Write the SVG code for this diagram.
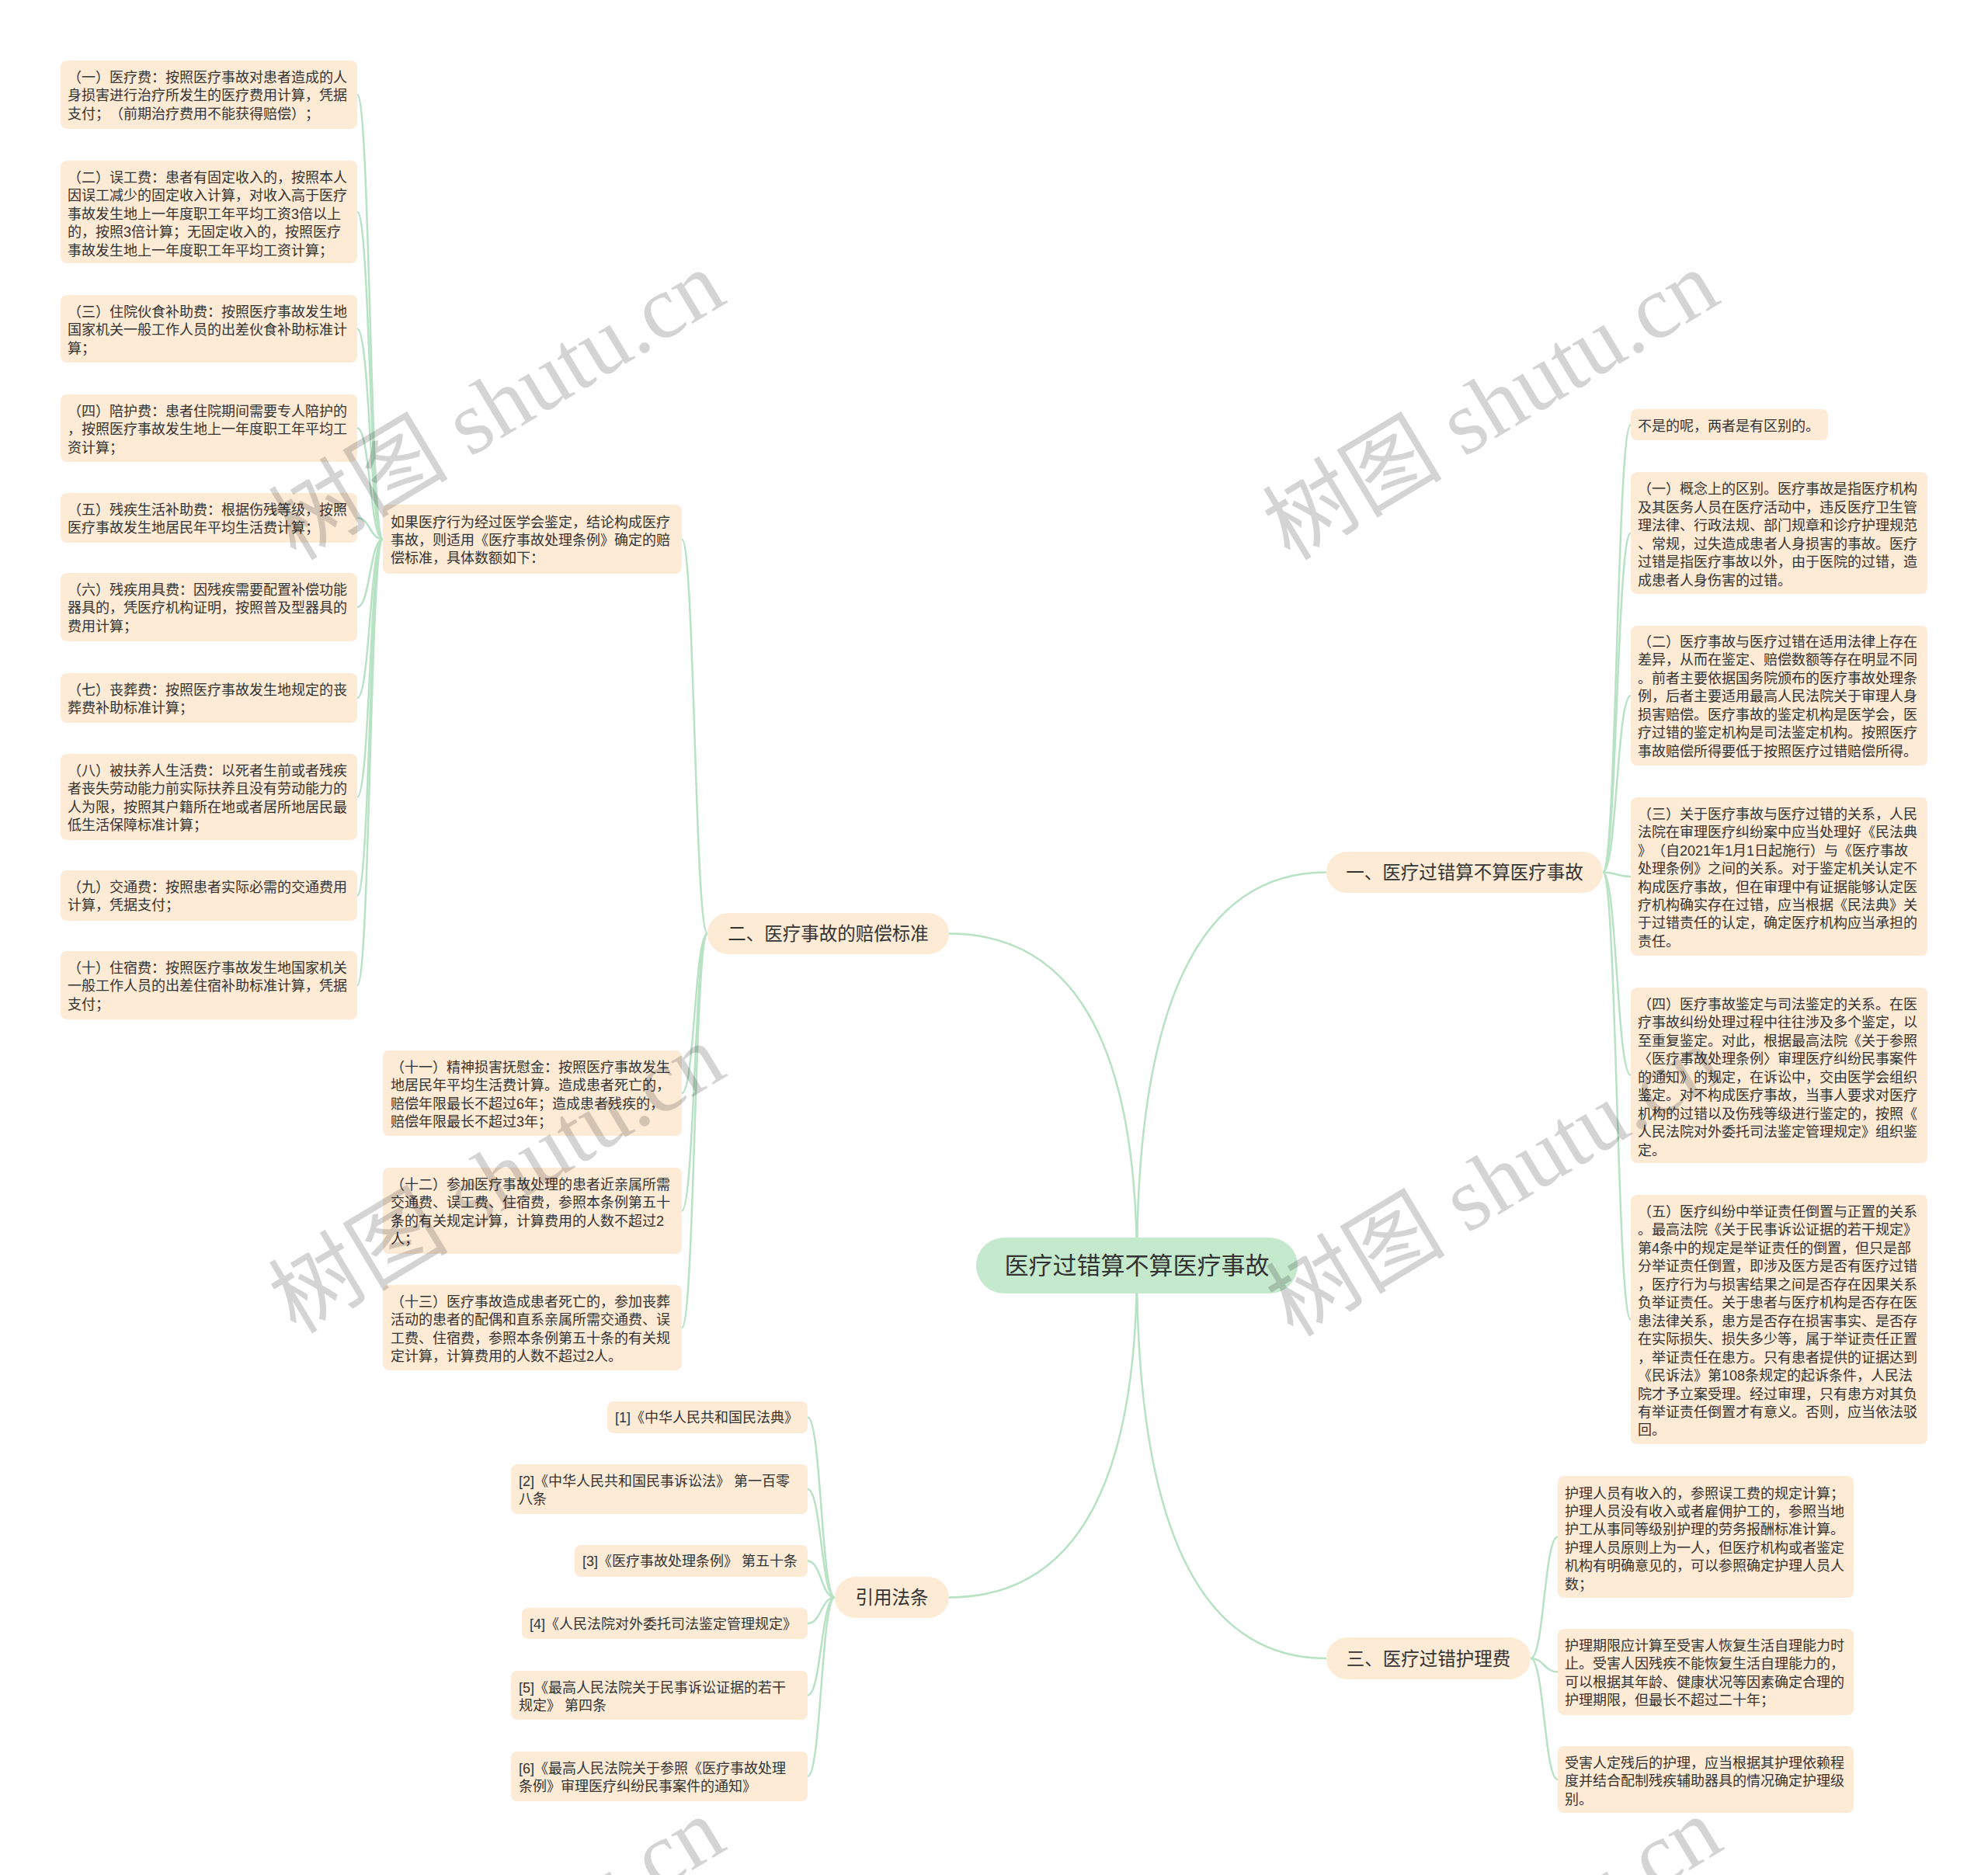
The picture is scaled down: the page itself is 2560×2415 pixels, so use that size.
<svg xmlns="http://www.w3.org/2000/svg" width="2560" height="2415" viewBox="0 0 2560 2415">
<style>
.bg{fill:#ffffff}
.n rect{fill:#fdebd6}
.c rect{fill:#c5e9cd}
.t{font-family:'Liberation Sans','Noto Sans CJK SC',sans-serif;font-size:18px;fill:#333333;text-spacing-trim:space-all}
.b{font-family:'Liberation Sans','Noto Sans CJK SC',sans-serif;font-size:23.5px;fill:#333333;text-anchor:middle}
.ct{font-family:'Liberation Sans','Noto Sans CJK SC',sans-serif;font-size:31px;fill:#333333;text-anchor:middle}
.conn path{fill:none;stroke:#b7e2c3;stroke-width:2.5}
.wm{font-family:'Liberation Serif','Noto Sans CJK SC',serif;font-size:116px;fill:#000000;fill-opacity:0.17;text-anchor:middle}
</style>
<rect class="bg" x="0" y="0" width="2560" height="2415"/>

<g id="connectors" class="conn">
<path d="M1464 1630 Q1464 1123.5 1708 1123.5"/>
<path d="M1464 1630 Q1464 1202.5 1222 1202.5"/>
<path d="M1464 1630 Q1464 2057.5 1222 2057.5"/>
<path d="M1464 1630 Q1464 2136 1708 2136"/>
<path d="M2064 1123.5 C2082 1123.5 2082 547 2100 547"/>
<path d="M2064 1123.5 C2082 1123.5 2082 686.5 2100 686.5"/>
<path d="M2064 1123.5 C2082 1123.5 2082 896 2100 896"/>
<path d="M2064 1123.5 C2082 1123.5 2082 1129 2100 1129"/>
<path d="M2064 1123.5 C2082 1123.5 2082 1385 2100 1385"/>
<path d="M2064 1123.5 C2082 1123.5 2082 1699.5 2100 1699.5"/>
<path d="M911 1202.5 C894.5 1202.5 894.5 694.5 878 694.5"/>
<path d="M911 1202.5 C894.5 1202.5 894.5 1408 878 1408"/>
<path d="M911 1202.5 C894.5 1202.5 894.5 1559.5 878 1559.5"/>
<path d="M911 1202.5 C894.5 1202.5 894.5 1710 878 1710"/>
<path d="M493 694.5 C476.5 694.5 476.5 122 460 122"/>
<path d="M493 694.5 C476.5 694.5 476.5 273 460 273"/>
<path d="M493 694.5 C476.5 694.5 476.5 423.5 460 423.5"/>
<path d="M493 694.5 C476.5 694.5 476.5 551.5 460 551.5"/>
<path d="M493 694.5 C476.5 694.5 476.5 667 460 667"/>
<path d="M493 694.5 C476.5 694.5 476.5 782 460 782"/>
<path d="M493 694.5 C476.5 694.5 476.5 899 460 899"/>
<path d="M493 694.5 C476.5 694.5 476.5 1026.5 460 1026.5"/>
<path d="M493 694.5 C476.5 694.5 476.5 1153.5 460 1153.5"/>
<path d="M493 694.5 C476.5 694.5 476.5 1269 460 1269"/>
<path d="M1075 2057.5 C1057.5 2057.5 1057.5 1825.5 1040 1825.5"/>
<path d="M1075 2057.5 C1057.5 2057.5 1057.5 1918 1040 1918"/>
<path d="M1075 2057.5 C1057.5 2057.5 1057.5 2010.5 1040 2010.5"/>
<path d="M1075 2057.5 C1057.5 2057.5 1057.5 2091 1040 2091"/>
<path d="M1075 2057.5 C1057.5 2057.5 1057.5 2183.5 1040 2183.5"/>
<path d="M1075 2057.5 C1057.5 2057.5 1057.5 2288 1040 2288"/>
<path d="M1971 2136 C1988.5 2136 1988.5 1979.5 2006 1979.5"/>
<path d="M1971 2136 C1988.5 2136 1988.5 2153.5 2006 2153.5"/>
<path d="M1971 2136 C1988.5 2136 1988.5 2292 2006 2292"/>
</g>

<g id="center" class="c">
<rect x="1257" y="1594" width="414" height="72" rx="36"/>
<text class="ct" x="1464" y="1641">医疗过错算不算医疗事故</text>
</g>

<g id="branch1" class="n">
<rect x="1708" y="1097" width="356" height="53" rx="26.5"/>
<text class="b" x="1886" y="1132">一、医疗过错算不算医疗事故</text>
</g>
<g id="branch2" class="n">
<rect x="911" y="1176" width="311" height="53" rx="26.5"/>
<text class="b" x="1066.5" y="1211">二、医疗事故的赔偿标准</text>
</g>
<g id="branch3" class="n">
<rect x="1708" y="2109" width="263" height="54" rx="27"/>
<text class="b" x="1839.5" y="2144.5">三、医疗过错护理费</text>
</g>
<g id="branch4" class="n">
<rect x="1075" y="2031" width="147" height="53" rx="26.5"/>
<text class="b" x="1148.5" y="2066">引用法条</text>
</g>

<g id="l1" class="n"><rect x="78" y="78" width="382" height="88" rx="8"/>
<text class="t"><tspan x="87" y="106">（一）医疗费：按照医疗事故对患者造成的人</tspan><tspan x="87" y="129.4">身损害进行治疗所发生的医疗费用计算，凭据</tspan><tspan x="87" y="152.8">支付；（前期治疗费用不能获得赔偿）；</tspan></text></g>
<g id="l2" class="n"><rect x="78" y="207" width="382" height="132" rx="8"/>
<text class="t"><tspan x="87" y="235">（二）误工费：患者有固定收入的，按照本人</tspan><tspan x="87" y="258.4">因误工减少的固定收入计算，对收入高于医疗</tspan><tspan x="87" y="281.8">事故发生地上一年度职工年平均工资3倍以上</tspan><tspan x="87" y="305.2">的，按照3倍计算；无固定收入的，按照医疗</tspan><tspan x="87" y="328.6">事故发生地上一年度职工年平均工资计算；</tspan></text></g>
<g id="l3" class="n"><rect x="78" y="380" width="382" height="87" rx="8"/>
<text class="t"><tspan x="87" y="408">（三）住院伙食补助费：按照医疗事故发生地</tspan><tspan x="87" y="431.4">国家机关一般工作人员的出差伙食补助标准计</tspan><tspan x="87" y="454.8">算；</tspan></text></g>
<g id="l4" class="n"><rect x="78" y="508" width="382" height="87" rx="8"/>
<text class="t"><tspan x="87" y="536">（四）陪护费：患者住院期间需要专人陪护的</tspan><tspan x="87" y="559.4">，按照医疗事故发生地上一年度职工年平均工</tspan><tspan x="87" y="582.8">资计算；</tspan></text></g>
<g id="l5" class="n"><rect x="78" y="635" width="382" height="64" rx="8"/>
<text class="t"><tspan x="87" y="663">（五）残疾生活补助费：根据伤残等级，按照</tspan><tspan x="87" y="686.4">医疗事故发生地居民年平均生活费计算；</tspan></text></g>
<g id="l6" class="n"><rect x="78" y="738" width="382" height="88" rx="8"/>
<text class="t"><tspan x="87" y="766">（六）残疾用具费：因残疾需要配置补偿功能</tspan><tspan x="87" y="789.4">器具的，凭医疗机构证明，按照普及型器具的</tspan><tspan x="87" y="812.8">费用计算；</tspan></text></g>
<g id="l7" class="n"><rect x="78" y="867" width="382" height="64" rx="8"/>
<text class="t"><tspan x="87" y="895">（七）丧葬费：按照医疗事故发生地规定的丧</tspan><tspan x="87" y="918.4">葬费补助标准计算；</tspan></text></g>
<g id="l8" class="n"><rect x="78" y="971" width="382" height="111" rx="8"/>
<text class="t"><tspan x="87" y="999">（八）被扶养人生活费：以死者生前或者残疾</tspan><tspan x="87" y="1022.4">者丧失劳动能力前实际扶养且没有劳动能力的</tspan><tspan x="87" y="1045.8">人为限，按照其户籍所在地或者居所地居民最</tspan><tspan x="87" y="1069.2">低生活保障标准计算；</tspan></text></g>
<g id="l9" class="n"><rect x="78" y="1121" width="382" height="65" rx="8"/>
<text class="t"><tspan x="87" y="1149">（九）交通费：按照患者实际必需的交通费用</tspan><tspan x="87" y="1172.4">计算，凭据支付；</tspan></text></g>
<g id="l10" class="n"><rect x="78" y="1225" width="382" height="88" rx="8"/>
<text class="t"><tspan x="87" y="1253">（十）住宿费：按照医疗事故发生地国家机关</tspan><tspan x="87" y="1276.4">一般工作人员的出差住宿补助标准计算，凭据</tspan><tspan x="87" y="1299.8">支付；</tspan></text></g>

<g id="m0" class="n"><rect x="493" y="650" width="385" height="89" rx="8"/>
<text class="t"><tspan x="503" y="678.5">如果医疗行为经过医学会鉴定，结论构成医疗</tspan><tspan x="503" y="701.9">事故，则适用《医疗事故处理条例》确定的赔</tspan><tspan x="503" y="725.3">偿标准，具体数额如下：</tspan></text></g>
<g id="m11" class="n"><rect x="493" y="1353" width="385" height="110" rx="8"/>
<text class="t"><tspan x="503" y="1381">（十一）精神损害抚慰金：按照医疗事故发生</tspan><tspan x="503" y="1404.4">地居民年平均生活费计算。造成患者死亡的，</tspan><tspan x="503" y="1427.8">赔偿年限最长不超过6年；造成患者残疾的，</tspan><tspan x="503" y="1451.2">赔偿年限最长不超过3年；</tspan></text></g>
<g id="m12" class="n"><rect x="493" y="1504" width="385" height="111" rx="8"/>
<text class="t"><tspan x="503" y="1532">（十二）参加医疗事故处理的患者近亲属所需</tspan><tspan x="503" y="1555.4">交通费、误工费、住宿费，参照本条例第五十</tspan><tspan x="503" y="1578.8">条的有关规定计算，计算费用的人数不超过2</tspan><tspan x="503" y="1602.2">人；</tspan></text></g>
<g id="m13" class="n"><rect x="493" y="1655" width="385" height="110" rx="8"/>
<text class="t"><tspan x="503" y="1683">（十三）医疗事故造成患者死亡的，参加丧葬</tspan><tspan x="503" y="1706.4">活动的患者的配偶和直系亲属所需交通费、误</tspan><tspan x="503" y="1729.8">工费、住宿费，参照本条例第五十条的有关规</tspan><tspan x="503" y="1753.2">定计算，计算费用的人数不超过2人。</tspan></text></g>

<g id="r1" class="n"><rect x="782" y="1805" width="258" height="41" rx="8"/>
<text class="t" x="792" y="1832">[1]《中华人民共和国民法典》</text></g>
<g id="r2" class="n"><rect x="658" y="1886" width="382" height="64" rx="8"/>
<text class="t"><tspan x="668" y="1913.5">[2]《中华人民共和国民事诉讼法》 第一百零</tspan><tspan x="668" y="1936.5">八条</tspan></text></g>
<g id="r3" class="n"><rect x="740" y="1990" width="300" height="41" rx="8"/>
<text class="t" x="750" y="2017">[3]《医疗事故处理条例》 第五十条</text></g>
<g id="r4" class="n"><rect x="672" y="2071" width="368" height="40" rx="8"/>
<text class="t" x="682" y="2098">[4]《人民法院对外委托司法鉴定管理规定》</text></g>
<g id="r5" class="n"><rect x="658" y="2152" width="382" height="63" rx="8"/>
<text class="t"><tspan x="668" y="2179.5">[5]《最高人民法院关于民事诉讼证据的若干</tspan><tspan x="668" y="2202.5">规定》 第四条</tspan></text></g>
<g id="r6" class="n"><rect x="658" y="2256" width="382" height="64" rx="8"/>
<text class="t"><tspan x="668" y="2283.5">[6]《最高人民法院关于参照《医疗事故处理</tspan><tspan x="668" y="2306.5">条例》审理医疗纠纷民事案件的通知》</tspan></text></g>

<g id="ra" class="n"><rect x="2100" y="527" width="254" height="40" rx="8"/>
<text class="t" x="2109" y="555">不是的呢，两者是有区别的。</text></g>
<g id="rb" class="n"><rect x="2100" y="608" width="382" height="157" rx="8"/>
<text class="t"><tspan x="2109" y="636">（一）概念上的区别。医疗事故是指医疗机构</tspan><tspan x="2109" y="659.6">及其医务人员在医疗活动中，违反医疗卫生管</tspan><tspan x="2109" y="683.2">理法律、行政法规、部门规章和诊疗护理规范</tspan><tspan x="2109" y="706.8">、常规，过失造成患者人身损害的事故。医疗</tspan><tspan x="2109" y="730.4">过错是指医疗事故以外，由于医院的过错，造</tspan><tspan x="2109" y="754">成患者人身伤害的过错。</tspan></text></g>
<g id="rc" class="n"><rect x="2100" y="806" width="382" height="180" rx="8"/>
<text class="t"><tspan x="2109" y="833">（二）医疗事故与医疗过错在适用法律上存在</tspan><tspan x="2109" y="856.45">差异，从而在鉴定、赔偿数额等存在明显不同</tspan><tspan x="2109" y="879.9">。前者主要依据国务院颁布的医疗事故处理条</tspan><tspan x="2109" y="903.35">例，后者主要适用最高人民法院关于审理人身</tspan><tspan x="2109" y="926.8">损害赔偿。医疗事故的鉴定机构是医学会，医</tspan><tspan x="2109" y="950.25">疗过错的鉴定机构是司法鉴定机构。按照医疗</tspan><tspan x="2109" y="973.7">事故赔偿所得要低于按照医疗过错赔偿所得。</tspan></text></g>
<g id="rd" class="n"><rect x="2100" y="1027" width="382" height="204" rx="8"/>
<text class="t"><tspan x="2109" y="1055">（三）关于医疗事故与医疗过错的关系，人民</tspan><tspan x="2109" y="1078.4">法院在审理医疗纠纷案中应当处理好《民法典</tspan><tspan x="2109" y="1101.8">》（自2021年1月1日起施行）与《医疗事故</tspan><tspan x="2109" y="1125.2">处理条例》之间的关系。对于鉴定机关认定不</tspan><tspan x="2109" y="1148.6">构成医疗事故，但在审理中有证据能够认定医</tspan><tspan x="2109" y="1172">疗机构确实存在过错，应当根据《民法典》关</tspan><tspan x="2109" y="1195.4">于过错责任的认定，确定医疗机构应当承担的</tspan><tspan x="2109" y="1218.8">责任。</tspan></text></g>
<g id="re" class="n"><rect x="2100" y="1272" width="382" height="226" rx="8"/>
<text class="t"><tspan x="2109" y="1299.5">（四）医疗事故鉴定与司法鉴定的关系。在医</tspan><tspan x="2109" y="1323">疗事故纠纷处理过程中往往涉及多个鉴定，以</tspan><tspan x="2109" y="1346.5">至重复鉴定。对此，根据最高法院《关于参照</tspan><tspan x="2109" y="1370">〈医疗事故处理条例〉审理医疗纠纷民事案件</tspan><tspan x="2109" y="1393.5">的通知》的规定，在诉讼中，交由医学会组织</tspan><tspan x="2109" y="1417">鉴定。对不构成医疗事故，当事人要求对医疗</tspan><tspan x="2109" y="1440.5">机构的过错以及伤残等级进行鉴定的，按照《</tspan><tspan x="2109" y="1464">人民法院对外委托司法鉴定管理规定》组织鉴</tspan><tspan x="2109" y="1487.5">定。</tspan></text></g>
<g id="rf" class="n"><rect x="2100" y="1539" width="382" height="321" rx="8"/>
<text class="t"><tspan x="2109" y="1567">（五）医疗纠纷中举证责任倒置与正置的关系</tspan><tspan x="2109" y="1590.45">。最高法院《关于民事诉讼证据的若干规定》</tspan><tspan x="2109" y="1613.9">第4条中的规定是举证责任的倒置，但只是部</tspan><tspan x="2109" y="1637.35">分举证责任倒置，即涉及医方是否有医疗过错</tspan><tspan x="2109" y="1660.8">，医疗行为与损害结果之间是否存在因果关系</tspan><tspan x="2109" y="1684.25">负举证责任。关于患者与医疗机构是否存在医</tspan><tspan x="2109" y="1707.7">患法律关系，患方是否存在损害事实、是否存</tspan><tspan x="2109" y="1731.15">在实际损失、损失多少等，属于举证责任正置</tspan><tspan x="2109" y="1754.6">，举证责任在患方。只有患者提供的证据达到</tspan><tspan x="2109" y="1778.05">《民诉法》第108条规定的起诉条件，人民法</tspan><tspan x="2109" y="1801.5">院才予立案受理。经过审理，只有患方对其负</tspan><tspan x="2109" y="1824.95">有举证责任倒置才有意义。否则，应当依法驳</tspan><tspan x="2109" y="1848.4">回。</tspan></text></g>

<g id="ba" class="n"><rect x="2006" y="1901" width="381" height="157" rx="8"/>
<text class="t"><tspan x="2015" y="1929.5">护理人员有收入的，参照误工费的规定计算；</tspan><tspan x="2015" y="1952.9">护理人员没有收入或者雇佣护工的，参照当地</tspan><tspan x="2015" y="1976.3">护工从事同等级别护理的劳务报酬标准计算。</tspan><tspan x="2015" y="1999.7">护理人员原则上为一人，但医疗机构或者鉴定</tspan><tspan x="2015" y="2023.1">机构有明确意见的，可以参照确定护理人员人</tspan><tspan x="2015" y="2046.5">数；</tspan></text></g>
<g id="bb" class="n"><rect x="2006" y="2098" width="381" height="111" rx="8"/>
<text class="t"><tspan x="2015" y="2126">护理期限应计算至受害人恢复生活自理能力时</tspan><tspan x="2015" y="2149.4">止。受害人因残疾不能恢复生活自理能力的，</tspan><tspan x="2015" y="2172.8">可以根据其年龄、健康状况等因素确定合理的</tspan><tspan x="2015" y="2196.2">护理期限，但最长不超过二十年；</tspan></text></g>
<g id="bc" class="n"><rect x="2006" y="2249" width="381" height="86" rx="8"/>
<text class="t"><tspan x="2015" y="2277">受害人定残后的护理，应当根据其护理依赖程</tspan><tspan x="2015" y="2300.4">度并结合配制残疾辅助器具的情况确定护理级</tspan><tspan x="2015" y="2323.8">别。</tspan></text></g>

<g id="watermark">
<text class="wm" transform="translate(660 556) rotate(-31)">树图 shutu.cn</text>
<text class="wm" transform="translate(1940 556) rotate(-31)">树图 shutu.cn</text>
<text class="wm" transform="translate(660 1552) rotate(-31)">树图 shutu.cn</text>
<text class="wm" transform="translate(1944 1556) rotate(-31)">树图 shutu.cn</text>
<text class="wm" transform="translate(660 2548) rotate(-31)">树图 shutu.cn</text>
<text class="wm" transform="translate(1944 2548) rotate(-31)">树图 shutu.cn</text>
</g>
</svg>
